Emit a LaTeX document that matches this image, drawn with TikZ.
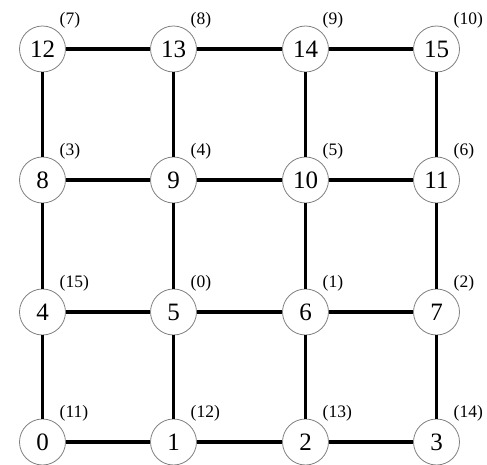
\documentclass[tikz,border=0pt]{standalone}
\usepackage{fontspec}
\setmainfont{Liberation Serif}
\begin{document}
\begin{tikzpicture}[x=1pt,y=1pt,
  vtx/.style={circle,draw=black!50,line width=0.8pt,fill=white,minimum size=46pt,inner sep=0pt,font=\fontsize{25}{25}\selectfont},
  lbl/.style={anchor=west,inner sep=0pt,font=\fontsize{17.5}{17.5}\selectfont},
  edge/.style={line width=3.2pt,black}]
\useasboundingbox (0,0) rectangle (487,464);
\def\ya{415}\def\yb{284}\def\yc{152}\def\yd{22}
\def\xa{42.5}\def\xb{173.5}\def\xc{305.5}\def\xd{436.5}
% nodes
\node[vtx] (n12) at (\xa,\ya) {12};
\node[vtx] (n13) at (\xb,\ya) {13};
\node[vtx] (n14) at (\xc,\ya) {14};
\node[vtx] (n15) at (\xd,\ya) {15};
\node[vtx] (n8) at (\xa,\yb) {8};
\node[vtx] (n9) at (\xb,\yb) {9};
\node[vtx] (n10) at (\xc,\yb) {10};
\node[vtx] (n11) at (\xd,\yb) {11};
\node[vtx] (n4) at (\xa,\yc) {4};
\node[vtx] (n5) at (\xb,\yc) {5};
\node[vtx] (n6) at (\xc,\yc) {6};
\node[vtx] (n7) at (\xd,\yc) {7};
\node[vtx] (n0) at (\xa,\yd) {0};
\node[vtx] (n1) at (\xb,\yd) {1};
\node[vtx] (n2) at (\xc,\yd) {2};
\node[vtx] (n3) at (\xd,\yd) {3};
% edges
\foreach \a/\b in {12/13,13/14,14/15,8/9,9/10,10/11,4/5,5/6,6/7,0/1,1/2,2/3,
                   12/8,8/4,4/0,13/9,9/5,5/1,14/10,10/6,6/2,15/11,11/7,7/3}
  \draw[edge] (n\a) -- (n\b);
% labels
\foreach \n/\t in {12/7,13/8,14/9,15/10,8/3,9/4,10/5,11/6,4/15,5/0,6/1,7/2,0/11,1/12,2/13,3/14}
  \node[lbl] (l\n) at ([shift={(17pt,29pt)}]n\n.center) {(\t)};
\end{tikzpicture}
\end{document}
